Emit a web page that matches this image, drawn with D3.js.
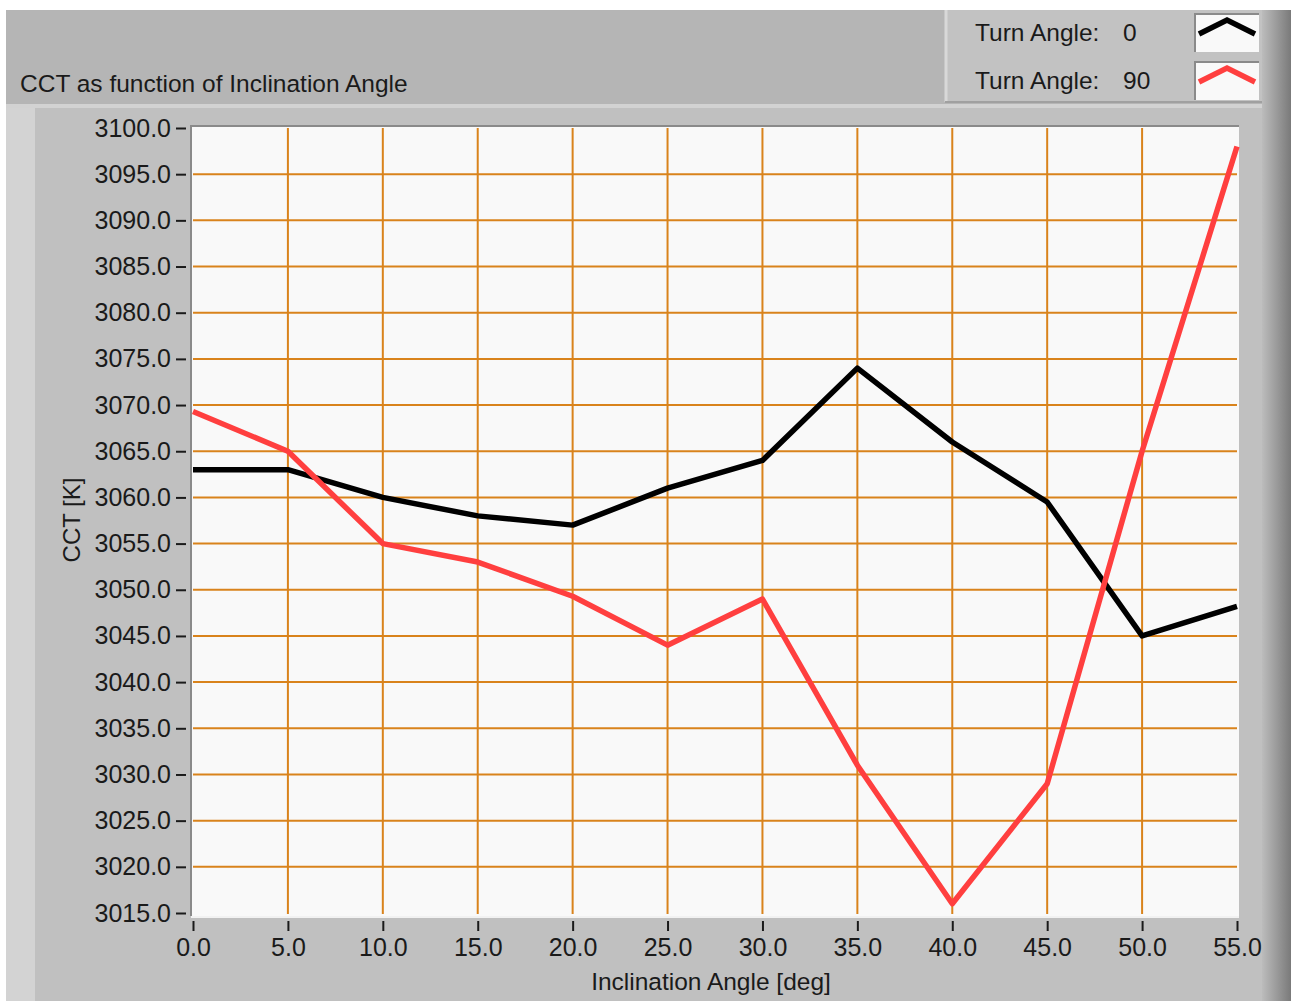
<!DOCTYPE html>
<html lang="en">
<head>
  <meta charset="UTF-8">
  <title>CCT as function of Inclination Angle</title>
  <script src="https://d3js.org/d3.v7.min.js"></script>
  <style>
    body { margin: 0; background: #fff; }
    text { font-family: "Liberation Sans", Arial, sans-serif; fill: #1a1a1a; }
  </style>
</head>
<body>
  <script>
    // data
    var inclination = [0, 5, 10, 15, 20, 25, 30, 35, 40, 45, 50, 55];
    var turn0 = [3063, 3063, 3060, 3058, 3057, 3061, 3064, 3074, 3066, 3059.5, 3045, 3048.2];
    var turn90 = [3069.3, 3065, 3055, 3053, 3049.3, 3044, 3049, 3031, 3016, 3029, 3065, 3098];
    var seriesNames = ["Turn Angle:", "Turn Angle:"];
    var seriesValues = ["0", "90"];
    var yTicks = d3.range(3015, 3100.1, 5);
    var xTicks = d3.range(0, 55.1, 5);

    var W = 1291, H = 1001;
    var svg = d3.select("body").append("svg")
      .attr("width", W).attr("height", H);

    // panel background
    svg.append("rect").attr("x", 6).attr("y", 10).attr("width", W - 6).attr("height", H - 10).attr("fill", "#c0c0c0");
    svg.append("rect").attr("x", 6).attr("y", 10).attr("width", W - 6).attr("height", 94).attr("fill", "#b5b5b5");
    svg.append("rect").attr("x", 6).attr("y", 104).attr("width", W - 6).attr("height", 4).attr("fill", "#d2d2d2");
    svg.append("rect").attr("x", 6).attr("y", 108).attr("width", 29).attr("height", H - 108).attr("fill", "#d3d3d3");

    // right edge gradient
    var defs = svg.append("defs");
    var grad = defs.append("linearGradient").attr("id", "edge").attr("x1", 0).attr("x2", 1);
    grad.append("stop").attr("offset", 0).attr("stop-color", "#bcbcbc");
    grad.append("stop").attr("offset", 1).attr("stop-color", "#7a7a7a");
    svg.append("rect").attr("x", 1262).attr("y", 10).attr("width", 29).attr("height", H - 10).attr("fill", "url(#edge)");

    // legend box
    svg.append("rect").attr("x", 945).attr("y", 10).attr("width", 317).attr("height", 92).attr("fill", "#c2c2c2");
    svg.append("line").attr("x1", 946).attr("x2", 946).attr("y1", 10).attr("y2", 102).attr("stroke", "#d8d8d8").attr("stroke-width", 3);
    svg.append("line").attr("x1", 945).attr("x2", 1262).attr("y1", 102).attr("y2", 102).attr("stroke", "#a0a0a0").attr("stroke-width", 2);

    svg.append("text").attr("x", 20).attr("y", 92).attr("font-size", 24.5).text("CCT as function of Inclination Angle");

    var x = d3.scaleLinear().domain([0, 55]).range([193, 1237]);
    var y = d3.scaleLinear().domain([3015, 3100]).range([913, 128]);

    // plot area
    svg.append("rect").attr("x", 191).attr("y", 126).attr("width", 1048).attr("height", 790).attr("fill", "#f9f9f9");
    svg.append("line").attr("x1", 191).attr("x2", 1239).attr("y1", 917).attr("y2", 917).attr("stroke", "#f2f2f2").attr("stroke-width", 2);
    svg.append("path").attr("d", "M191,916V126H1239").attr("fill", "none").attr("stroke", "#8a8a8a").attr("stroke-width", 2);

    var grid = svg.append("g").attr("stroke", "#d9831c").attr("stroke-width", 2);
    grid.selectAll(".h").data(yTicks.slice(1, -1)).enter().append("line")
      .attr("x1", 193).attr("x2", 1237)
      .attr("y1", function (d) { return y(d); }).attr("y2", function (d) { return y(d); });
    grid.selectAll(".v").data(xTicks.slice(1, -1)).enter().append("line")
      .attr("y1", 128).attr("y2", 914)
      .attr("x1", function (d) { return x(d); }).attr("x2", function (d) { return x(d); });

    // y axis
    var yAxis = svg.append("g")
      .attr("transform", "translate(186,0)")
      .call(d3.axisLeft(y).tickValues(yTicks).tickFormat(d3.format(".1f")).tickSize(10).tickPadding(5));
    yAxis.select(".domain").remove();
    yAxis.selectAll(".tick line").attr("stroke", "#1a1a1a").attr("stroke-width", 2);
    yAxis.selectAll(".tick text").attr("font-size", 25).attr("font-family", "Liberation Sans, Arial, sans-serif").attr("fill", "#1a1a1a");

    // x axis
    var xAxis = svg.append("g")
      .attr("transform", "translate(0,921)")
      .call(d3.axisBottom(x).tickValues(xTicks).tickFormat(d3.format(".1f")).tickSize(10).tickPadding(7));
    xAxis.select(".domain").remove();
    xAxis.selectAll(".tick line").attr("stroke", "#1a1a1a").attr("stroke-width", 2);
    xAxis.selectAll(".tick text").attr("font-size", 25).attr("font-family", "Liberation Sans, Arial, sans-serif").attr("fill", "#1a1a1a");

    svg.append("text").attr("x", 711).attr("y", 990).attr("text-anchor", "middle").attr("font-size", 24.5)
      .text("Inclination Angle [deg]");
    svg.append("text").attr("transform", "translate(80,520) rotate(-90)").attr("text-anchor", "middle").attr("font-size", 24)
      .text("CCT [K]");

    // lines
    var line = d3.line()
      .x(function (d, i) { return x(inclination[i]); })
      .y(function (d) { return y(d); });
    var colors = ["#000000", "#ff3f3f"];
    [turn0, turn90].forEach(function (s, k) {
      svg.append("path").attr("d", line(s)).attr("fill", "none")
        .attr("stroke", colors[k]).attr("stroke-width", 5.5).attr("stroke-linejoin", "round");
    });

    // legend entries
    var lx = d3.scaleLinear().domain([0, 1]).range([1199, 1255]);
    var chevron = [[0, 1], [0.5, 0], [1, 1]];
    seriesNames.forEach(function (name, k) {
      var cy = 32 + k * 48;
      svg.append("text").attr("x", 975).attr("y", cy + 9).attr("font-size", 24.5).text(name);
      svg.append("text").attr("x", 1123).attr("y", cy + 9).attr("font-size", 24.5).text(seriesValues[k]);
      svg.append("rect").attr("x", 1195).attr("y", cy - 18).attr("width", 64).attr("height", 38).attr("fill", "#f9f9f9");
      svg.append("path").attr("d", "M1195," + (cy + 20) + "V" + (cy - 18) + "H1259").attr("fill", "none").attr("stroke", "#8a8a8a").attr("stroke-width", 2);
      var ly = d3.scaleLinear().domain([0, 1]).range([cy - 12, cy + 2]);
      svg.append("path")
        .attr("d", d3.line().x(function (d) { return lx(d[0]); }).y(function (d) { return ly(d[1]); })(chevron))
        .attr("fill", "none").attr("stroke", colors[k]).attr("stroke-width", 5.5);
    });
  </script>
</body>
</html>
